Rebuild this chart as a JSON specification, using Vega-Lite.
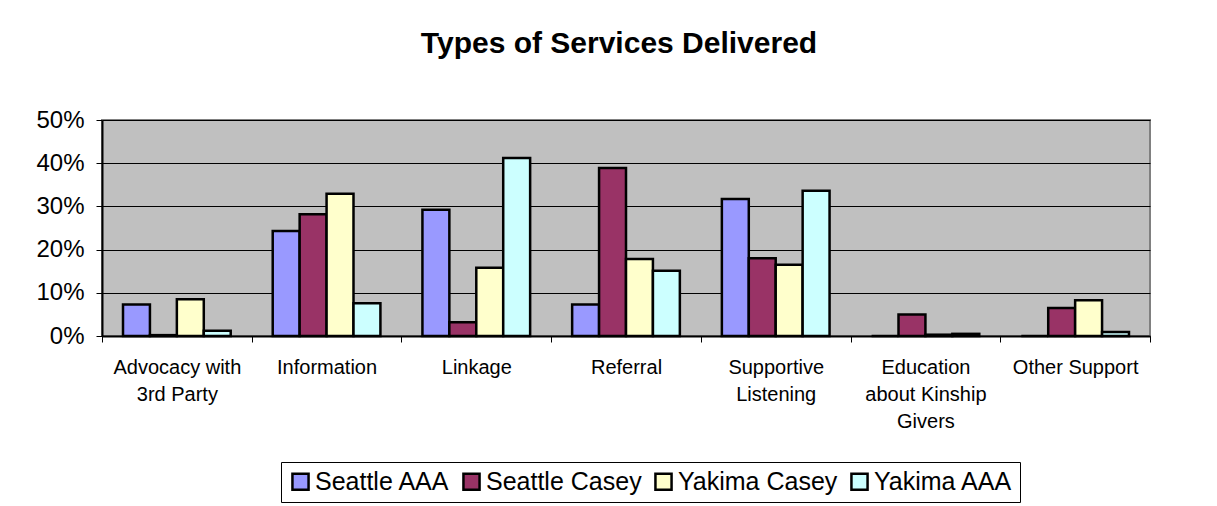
{
  "$schema": "https://vega.github.io/schema/vega-lite/v6.json",
  "autosize": "none",
  "width": 1048,
  "height": 216,
  "padding": {"left": 102, "top": 120, "right": 67, "bottom": 170},
  "background": "white",
  "title": {
    "text": "Types of Services Delivered",
    "font": "Liberation Sans",
    "fontSize": 30,
    "fontWeight": "bold",
    "color": "black",
    "anchor": "middle",
    "baseline": "alphabetic",
    "offset": 25,
    "dx": -7
  },
  "config": {
    "font": "Liberation Sans",
    "view": {"fill": "#C0C0C0", "stroke": "#808080", "strokeWidth": 2}
  },
  "data": {
    "values": [
      {"category": "Advocacy with 3rd Party", "series": "Seattle AAA", "value": 0.073},
      {"category": "Advocacy with 3rd Party", "series": "Seattle Casey", "value": 0.002},
      {"category": "Advocacy with 3rd Party", "series": "Yakima Casey", "value": 0.085},
      {"category": "Advocacy with 3rd Party", "series": "Yakima AAA", "value": 0.012},
      {"category": "Information", "series": "Seattle AAA", "value": 0.243},
      {"category": "Information", "series": "Seattle Casey", "value": 0.282},
      {"category": "Information", "series": "Yakima Casey", "value": 0.329},
      {"category": "Information", "series": "Yakima AAA", "value": 0.076},
      {"category": "Linkage", "series": "Seattle AAA", "value": 0.292},
      {"category": "Linkage", "series": "Seattle Casey", "value": 0.032},
      {"category": "Linkage", "series": "Yakima Casey", "value": 0.158},
      {"category": "Linkage", "series": "Yakima AAA", "value": 0.412},
      {"category": "Referral", "series": "Seattle AAA", "value": 0.073},
      {"category": "Referral", "series": "Seattle Casey", "value": 0.389},
      {"category": "Referral", "series": "Yakima Casey", "value": 0.178},
      {"category": "Referral", "series": "Yakima AAA", "value": 0.151},
      {"category": "Supportive Listening", "series": "Seattle AAA", "value": 0.317},
      {"category": "Supportive Listening", "series": "Seattle Casey", "value": 0.180},
      {"category": "Supportive Listening", "series": "Yakima Casey", "value": 0.165},
      {"category": "Supportive Listening", "series": "Yakima AAA", "value": 0.336},
      {"category": "Education about Kinship Givers", "series": "Seattle AAA", "value": 0},
      {"category": "Education about Kinship Givers", "series": "Seattle Casey", "value": 0.050},
      {"category": "Education about Kinship Givers", "series": "Yakima Casey", "value": 0.003},
      {"category": "Education about Kinship Givers", "series": "Yakima AAA", "value": 0.005},
      {"category": "Other Support", "series": "Seattle AAA", "value": 0},
      {"category": "Other Support", "series": "Seattle Casey", "value": 0.065},
      {"category": "Other Support", "series": "Yakima Casey", "value": 0.083},
      {"category": "Other Support", "series": "Yakima AAA", "value": 0.009}
    ]
  },
  "mark": {"type": "bar", "stroke": "black", "strokeWidth": 2.5, "clip": false},
  "encoding": {
    "x": {
      "field": "category",
      "type": "nominal",
      "sort": null,
      "scale": {"paddingInner": 0, "paddingOuter": 0},
      "axis": {
        "title": null,
        "labelAngle": 0,
        "labelFont": "Liberation Sans",
        "labelFontSize": 20,
        "labelColor": "black",
        "labelLineHeight": 27,
        "labelPadding": 15,
        "labelBaseline": "top",
        "labelLimit": 200,
        "tickBand": "extent",
        "tickColor": "black",
        "tickSize": 6,
        "tickWidth": 1,
        "domainColor": "black",
        "domainWidth": 2,
        "labelExpr": "datum.label == 'Advocacy with 3rd Party' ? ['Advocacy with', '3rd Party'] : datum.label == 'Supportive Listening' ? ['Supportive', 'Listening'] : datum.label == 'Education about Kinship Givers' ? ['Education', 'about Kinship', 'Givers'] : datum.label"
      }
    },
    "xOffset": {
      "field": "series",
      "type": "nominal",
      "sort": ["Seattle AAA", "Seattle Casey", "Yakima Casey", "Yakima AAA"],
      "scale": {"paddingInner": 0, "paddingOuter": 0.78}
    },
    "y": {
      "field": "value",
      "type": "quantitative",
      "scale": {"domain": [0, 0.5], "nice": false},
      "axis": {
        "title": null,
        "format": ".0%",
        "values": [0, 0.1, 0.2, 0.3, 0.4, 0.5],
        "labelFont": "Liberation Sans",
        "labelFontSize": 24,
        "labelColor": "black",
        "labelPadding": 12,
        "tickColor": "black",
        "tickSize": 6,
        "domainColor": "black",
        "domainWidth": 2,
        "grid": true,
        "gridColor": "black",
        "gridWidth": 1
      }
    },
    "fill": {
      "field": "series",
      "type": "nominal",
      "sort": ["Seattle AAA", "Seattle Casey", "Yakima Casey", "Yakima AAA"],
      "scale": {
        "domain": ["Seattle AAA", "Seattle Casey", "Yakima Casey", "Yakima AAA"],
        "range": ["#9999FF", "#993366", "#FFFFCC", "#CCFFFF"]
      },
      "legend": {
        "title": null,
        "orient": "none",
        "direction": "horizontal",
        "legendX": 179,
        "legendY": 342,
        "fillColor": "white",
        "strokeColor": "black",
        "padding": 7,
        "symbolType": "square",
        "symbolSize": 260,
        "symbolStrokeColor": "black",
        "symbolStrokeWidth": 2.5,
        "labelFont": "Liberation Sans",
        "labelFontSize": 25,
        "labelColor": "black",
        "labelOffset": 2,
        "columnPadding": 8,
        "labelLimit": 300
      }
    }
  }
}
